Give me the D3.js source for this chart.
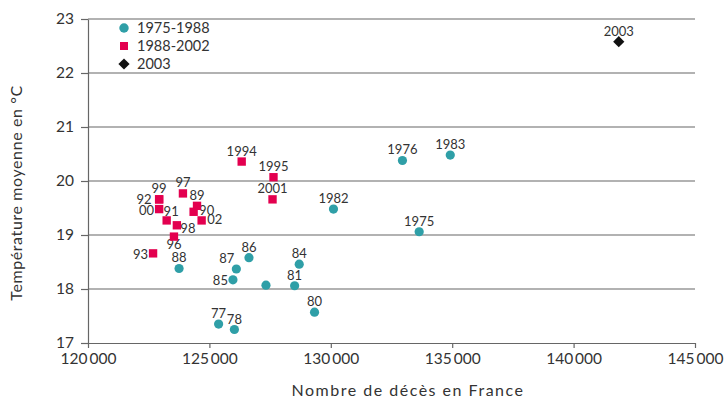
<!DOCTYPE html>
<html>
<head>
<meta charset="utf-8">
<script src="https://cdn.jsdelivr.net/npm/d3@7"></script>
<style>
  body { margin: 0; background: #fff; }
  text { font-family: Lato, "Open Sans", sans-serif; fill: #333; }
</style>
</head>
<body>
<div id="chart"></div>
<script>
// series 1975-1988
var labels1 = ["1975", "1976", "77", "78", "", "80", "81", "1982", "1983", "84", "85", "86", "87", "88"];
var deaths1 = [133640, 132950, 125380, 126030, 127330, 129330, 128510, 130110, 134920, 128700, 125970, 126630, 126110, 123750];
var temps1 = [19.06, 20.38, 17.35, 17.25, 18.07, 17.57, 18.06, 19.48, 20.48, 18.46, 18.17, 18.58, 18.37, 18.38];
var place1 = ["t", "t", "t", "t", "", "t", "t", "t", "t", "t", "l", "t", "tl", "t"];

// series 1988-2002
var labels2 = ["89", "90", "91", "92", "93", "1994", "1995", "96", "97", "98", "99", "00", "2001", "02"];
var deaths2 = [124490, 124350, 123240, 122930, 122680, 126330, 127640, 123540, 123910, 123660, 122930, 122930, 127600, 124680];
var temps2 = [19.54, 19.43, 19.27, 19.66, 18.66, 20.36, 20.07, 18.97, 19.77, 19.18, 19.66, 19.48, 19.66, 19.27];
var place2 = ["t", "r", "tr", "L", "l", "t", "t", "b", "t", "br", "t", "l", "t", "r"];

// 2003
var labels3 = ["2003"];
var deaths3 = [141860];
var temps3 = [22.58];

var xTicks = [120000, 125000, 130000, 135000, 140000, 145000];
var yTicks = [17, 18, 19, 20, 21, 22, 23];
var legendNames = ["1975-1988", "1988-2002", "2003"];

var svgWidth = 728, svgHeight = 400;
var margin = { top: 19, right: 33, bottom: 57, left: 88 };
var width = svgWidth - margin.left - margin.right;
var height = svgHeight - margin.top - margin.bottom;

var teal = "#2f9fa7", red = "#e3004f", black = "#111";

var svg = d3.select("#chart").append("svg")
  .attr("width", svgWidth)
  .attr("height", svgHeight);

var g = svg.append("g")
  .attr("transform", `translate(${margin.left}, ${margin.top})`);

var x = d3.scaleLinear().domain([120000, 145000]).range([0, width]);
var y = d3.scaleLinear().domain([17, 23]).range([height, 0]);

var fr = d3.formatLocale({ decimal: ",", thousands: "\u2009", grouping: [3], currency: ["", ""] });
var fmt = fr.format(",d");

// gridlines
g.append("g")
  .selectAll("line")
  .data(yTicks.slice(1))
  .enter().append("line")
  .attr("x1", 0).attr("x2", width)
  .attr("y1", d => y(d)).attr("y2", d => y(d))
  .attr("stroke", "#666").attr("stroke-width", 1.2);

// axes
var yAxis = g.append("g")
  .call(d3.axisLeft(y).tickValues(yTicks).tickFormat(d3.format("d")).tickSize(7).tickSizeOuter(0).tickPadding(7));
var xAxis = g.append("g")
  .attr("transform", `translate(0, ${height})`)
  .call(d3.axisBottom(x).tickValues(xTicks).tickFormat(fmt).tickSize(5).tickSizeOuter(0).tickPadding(5));

[xAxis, yAxis].forEach(function(a) {
  a.select(".domain").attr("stroke", "#666").attr("stroke-width", 1.2);
  a.selectAll(".tick line").attr("stroke", "#666").attr("stroke-width", 1.2);
  a.selectAll(".tick text").style("font-size", "15.5px").attr("fill", "#333");
});

// label offsets by placement code
function labelPos(p, px, py) {
  if (p === "l") return { x: px - 5, y: py + 5.5, a: "end" };
  if (p === "L") return { x: px - 7.5, y: py + 5, a: "end" };
  if (p === "r") return { x: px + 5.5, y: py + 3.5, a: "start" };
  if (p === "b") return { x: px, y: py + 12.5, a: "middle" };
  if (p === "tl") return { x: px - 2, y: py - 6, a: "end" };
  if (p === "tr") return { x: px + 4.5, y: py - 4, a: "middle" };
  if (p === "br") return { x: px + 3.5, y: py + 8, a: "start" };
  return { x: px, y: py - 6, a: "middle" };
}

function drawLabels(labels, xs, ys, places) {
  labels.forEach(function(l, i) {
    if (!l) return;
    var p = labelPos(places[i], x(xs[i]), y(ys[i]));
    g.append("text")
      .attr("x", p.x).attr("y", p.y)
      .attr("text-anchor", p.a)
      .style("font-size", "13px")
      .text(l);
  });
}

drawLabels(labels1, deaths1, temps1, place1);
drawLabels(labels2, deaths2, temps2, place2);
drawLabels(labels3, deaths3, temps3, ["t"]);

// points
g.selectAll(null)
  .data(deaths1)
  .enter().append("circle")
  .attr("cx", d => x(d))
  .attr("cy", (d, i) => y(temps1[i]))
  .attr("r", 4.6)
  .attr("fill", teal);

g.selectAll(null)
  .data(deaths2)
  .enter().append("path")
  .attr("d", d3.symbol().type(d3.symbolSquare).size(70))
  .attr("transform", (d, i) => `translate(${x(d)}, ${y(temps2[i])})`)
  .attr("fill", red);

g.selectAll(null)
  .data(deaths3)
  .enter().append("path")
  .attr("d", d3.symbol().type(d3.symbolDiamond2).size(80))
  .attr("transform", (d, i) => `translate(${x(d)}, ${y(temps3[i])})`)
  .attr("fill", black);

// legend
var legend = svg.append("g").attr("transform", "translate(124, 28)");
var legendSymbols = [d3.symbolCircle, d3.symbolSquare, d3.symbolDiamond2];
var legendSizes = [70, 64, 80];
var legendColors = [teal, red, black];
legendNames.forEach(function(n, i) {
  legend.append("path")
    .attr("d", d3.symbol().type(legendSymbols[i]).size(legendSizes[i]))
    .attr("transform", `translate(0, ${i * 18})`)
    .attr("fill", legendColors[i]);
  legend.append("text")
    .attr("x", 13).attr("y", i * 18 + 5)
    .style("font-size", "14.5px")
    .text(n);
});

// axis titles
svg.append("text")
  .attr("transform", "translate(408, 396)")
  .attr("text-anchor", "middle")
  .style("font-size", "16px")
  .style("letter-spacing", "1.5px")
  .text("Nombre de décès en France");

svg.append("text")
  .attr("transform", `translate(22, ${margin.top + height / 2 + 12}) rotate(-90)`)
  .attr("text-anchor", "middle")
  .style("font-size", "16px")
  .style("letter-spacing", "0.6px")
  .text("Température moyenne en °C");
</script>
</body>
</html>
